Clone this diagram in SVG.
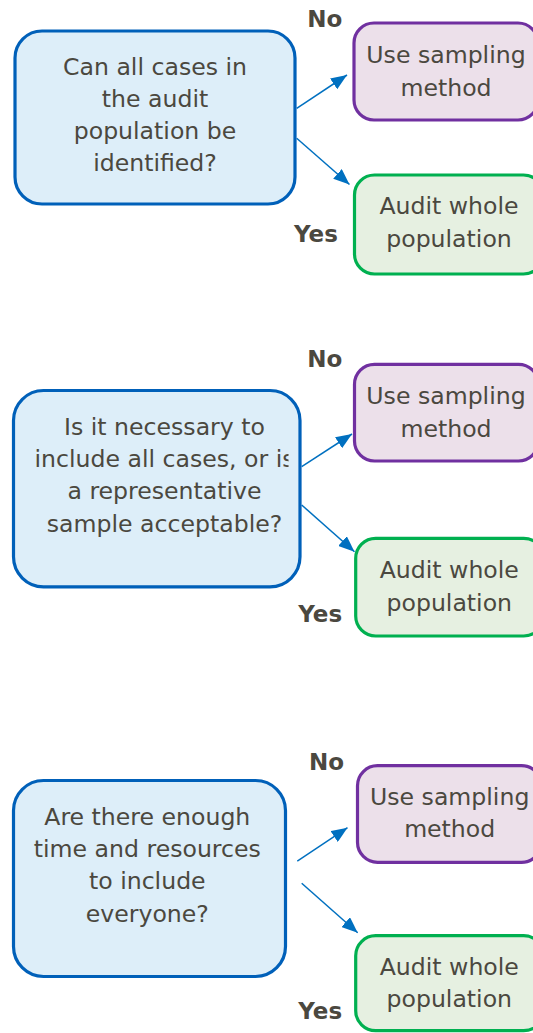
<svg xmlns="http://www.w3.org/2000/svg" width="533" height="1033" viewBox="0 0 533 1033">
<style>
.q{fill:#ddeef9;stroke:#0060b9;stroke-width:3.2}
.s{fill:#ece0ea;stroke:#7030a0;stroke-width:3.2}
.a{fill:#e6f0e1;stroke:#00b050;stroke-width:3.2}
.t{font-family:"DejaVu Sans","Verdana",sans-serif;font-size:23.6px;fill:#4b483f;text-anchor:middle}
.b{font-family:"DejaVu Sans","Verdana",sans-serif;font-size:23px;font-weight:bold;fill:#4b483f}
.c{stroke:#0070c0;stroke-width:1.5;fill:none;marker-end:url(#ah)}
</style>
<defs>
<marker id="ah" markerUnits="userSpaceOnUse" markerWidth="16" markerHeight="13" refX="16" refY="6.5" orient="auto" viewBox="0 0 16 13">
<path d="M0,0 L16,6.5 L0,13 z" fill="#0070c0"/>
</marker>
<clipPath id="clip2"><rect x="0" y="400" width="288.5" height="160"/></clipPath>
</defs>

<g id="connectors">
<line class="c" x1="296.7" y1="108.3" x2="347" y2="75"/>
<line class="c" x1="296.7" y1="138.3" x2="349.5" y2="184.5"/>
<line class="c" x1="301.7" y1="466.7" x2="352" y2="434"/>
<line class="c" x1="301.7" y1="505" x2="354.5" y2="551.7"/>
<line class="c" x1="297.3" y1="861" x2="347.5" y2="827.7"/>
<line class="c" x1="301.7" y1="883.3" x2="357.7" y2="932.7"/>
</g>

<g id="q1">
<rect class="q" x="15" y="31" width="280" height="173" rx="27"/>
<text class="t" x="155" y="75">Can all cases in</text>
<text class="t" x="155" y="107.3">the audit</text>
<text class="t" x="155" y="139.3">population be</text>
<text class="t" x="155" y="171.3">identified?</text>
</g>
<g id="no1">
<rect class="s" x="354" y="23" width="184" height="97" rx="20"/>
<text class="t" x="446" y="63.3">Use sampling</text>
<text class="t" x="446" y="95.7">method</text>
</g>
<g id="yes1">
<rect class="a" x="354.5" y="175" width="189" height="99" rx="20"/>
<text class="t" x="449" y="214">Audit whole</text>
<text class="t" x="449" y="246.5">population</text>
</g>
<text class="b" x="307.3" y="26.7">No</text>
<text class="b" x="294" y="242.3">Yes</text>

<g id="q2">
<rect class="q" x="13.5" y="390.5" width="286.5" height="196.3" rx="30"/>
<g clip-path="url(#clip2)">
<text class="t" x="164.5" y="435">Is it necessary to</text>
<text class="t" x="164.5" y="467.3">include all cases, or is</text>
<text class="t" x="164.5" y="499.3">a representative</text>
<text class="t" x="164.5" y="531.7">sample acceptable?</text>
</g>
</g>
<g id="no2">
<rect class="s" x="354.5" y="364.3" width="184" height="96.7" rx="20"/>
<text class="t" x="446" y="404">Use sampling</text>
<text class="t" x="446" y="436.7">method</text>
</g>
<g id="yes2">
<rect class="a" x="355.7" y="538.3" width="188" height="97.7" rx="20"/>
<text class="t" x="449.3" y="578.3">Audit whole</text>
<text class="t" x="449.3" y="610.7">population</text>
</g>
<text class="b" x="307.3" y="367.3">No</text>
<text class="b" x="298.3" y="621.7">Yes</text>

<g id="q3">
<rect class="q" x="13.5" y="780.5" width="272" height="196" rx="30"/>
<text class="t" x="147.3" y="825">Are there enough</text>
<text class="t" x="147.3" y="857.3">time and resources</text>
<text class="t" x="147.3" y="889.3">to include</text>
<text class="t" x="147.3" y="921.7">everyone?</text>
</g>
<g id="no3">
<rect class="s" x="357.5" y="765.7" width="184" height="96.6" rx="20"/>
<text class="t" x="449.7" y="805">Use sampling</text>
<text class="t" x="449.7" y="837.3">method</text>
</g>
<g id="yes3">
<rect class="a" x="355.7" y="935.7" width="188" height="95" rx="20"/>
<text class="t" x="449.3" y="975">Audit whole</text>
<text class="t" x="449.3" y="1006.7">population</text>
</g>
<text class="b" x="309" y="770">No</text>
<text class="b" x="298.3" y="1019">Yes</text>
</svg>
